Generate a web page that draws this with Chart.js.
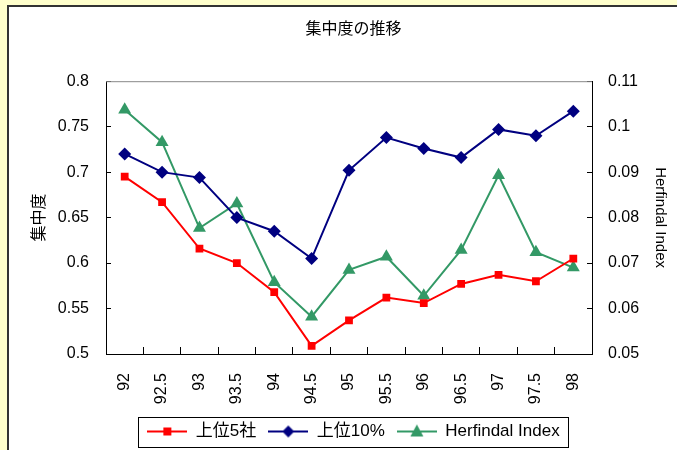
<!DOCTYPE html>
<html>
<head>
<meta charset="utf-8">
<script src="https://cdn.jsdelivr.net/npm/chart.js@4/dist/chart.umd.min.js"></script>
<style>
  html, body { margin: 0; padding: 0; background: #FFFFCC; }
  #wrap { width: 677px; height: 450px; }
</style>
</head>
<body>
<div id="wrap"><canvas id="chartCanvas"></canvas></div>
<script>
// 年度（カテゴリ）
const years = ["92", "92.5", "93", "93.5", "94", "94.5", "95", "95.5", "96", "96.5", "97", "97.5", "98"];
// 上位5社（左軸）
const top5 = [0.695, 0.667, 0.616, 0.600, 0.568, 0.509, 0.537, 0.562, 0.556, 0.577, 0.587, 0.580, 0.605];
// 上位10%（左軸）
const top10 = [0.720, 0.700, 0.694, 0.650, 0.635, 0.605, 0.702, 0.738, 0.726, 0.716, 0.747, 0.740, 0.767];
// Herfindal Index（右軸）
const herfindal = [0.1037, 0.0966, 0.0777, 0.0831, 0.0658, 0.0582, 0.0685, 0.0714, 0.0628, 0.0729, 0.0893, 0.0724, 0.0690];

const FONT = "'Liberation Sans', 'Noto Sans CJK JP', sans-serif";
const RED = "#FF0000";
const NAVY = "#000080";
const GREEN = "#339966";

// 凡例用アイコン（線＋マーカー）
function legendIcon(color, shape) {
  const cv = document.createElement("canvas");
  cv.width = 40;
  cv.height = 16;
  const c = cv.getContext("2d");
  c.strokeStyle = color;
  c.fillStyle = color;
  c.lineWidth = 2;
  c.beginPath();
  c.moveTo(0, 8);
  c.lineTo(40, 8);
  c.stroke();
  c.beginPath();
  if (shape === "rect") {
    c.rect(16, 4, 8, 8);
  } else if (shape === "diamond") {
    c.moveTo(20, 2); c.lineTo(26, 8); c.lineTo(20, 14); c.lineTo(14, 8);
  } else {
    c.moveTo(20, 1); c.lineTo(26.5, 13); c.lineTo(13.5, 13);
  }
  c.closePath();
  c.fill();
  return cv;
}
const icons = [legendIcon(RED, "rect"), legendIcon(NAVY, "diamond"), legendIcon(GREEN, "tri")];

// 背景と枠
const framePlugin = {
  id: "frame",
  beforeDraw(chart) {
    const ctx = chart.ctx;
    ctx.save();
    ctx.fillStyle = "#FFFFCC";
    ctx.fillRect(0, 0, chart.width, chart.height);
    ctx.fillStyle = "#FFFFFF";
    ctx.fillRect(8, 6, chart.width, chart.height);
    ctx.strokeStyle = "#333333";
    ctx.lineWidth = 2;
    ctx.strokeRect(8, 6, chart.width + 10, chart.height + 10);
    ctx.restore();
  },
  beforeDatasetsDraw(chart) {
    const a = chart.chartArea;
    const ctx = chart.ctx;
    ctx.save();
    ctx.strokeStyle = "#888888";
    ctx.lineWidth = 1;
    ctx.beginPath();
    ctx.moveTo(a.left, a.top + 0.5);
    ctx.lineTo(a.right, a.top + 0.5);
    ctx.stroke();
    ctx.restore();
  },
  afterDraw(chart) {
    const boxes = chart.legend && chart.legend.legendHitBoxes;
    if (!boxes || !boxes.length) return;
    let l = Infinity, r = -Infinity, t = Infinity, b = -Infinity;
    boxes.forEach(h => {
      l = Math.min(l, h.left); r = Math.max(r, h.left + h.width);
      t = Math.min(t, h.top); b = Math.max(b, h.top + h.height);
    });
    const ctx = chart.ctx;
    ctx.save();
    ctx.strokeStyle = "#000000";
    ctx.lineWidth = 1;
    ctx.strokeRect(Math.round(l - 9) + 0.5, Math.round(t - 6) + 0.5, Math.round(r - l + 18), Math.round(b - t + 13));
    ctx.restore();
  }
};

const canvas = document.getElementById("chartCanvas");

new Chart(canvas, {
  type: "line",
  data: {
    labels: years,
    datasets: [
      {
        label: "上位5社",
        data: top5,
        yAxisID: "y",
        borderColor: RED,
        backgroundColor: RED,
        borderWidth: 2,
        pointStyle: "rect",
        pointRadius: 5.5,
        pointBorderWidth: 0,
        tension: 0
      },
      {
        label: "上位10%",
        data: top10,
        yAxisID: "y",
        borderColor: NAVY,
        backgroundColor: NAVY,
        borderWidth: 2,
        pointStyle: "rectRot",
        pointRadius: 6.5,
        pointBorderWidth: 0,
        tension: 0
      },
      {
        label: "Herfindal Index",
        data: herfindal,
        yAxisID: "y1",
        borderColor: GREEN,
        backgroundColor: GREEN,
        borderWidth: 2,
        pointStyle: "triangle",
        pointRadius: 7.5,
        pointBorderWidth: 0,
        tension: 0
      }
    ]
  },
  options: {
    responsive: true,
    maintainAspectRatio: false,
    animation: false,
    layout: { padding: { left: 30, right: 0, top: 0, bottom: 0 } },
    plugins: {
      title: {
        display: true,
        text: "集中度の推移",
        color: "#000",
        font: { family: FONT, size: 16, weight: "normal" },
        padding: { top: 20, bottom: 42 }
      },
      legend: {
        position: "bottom",
        labels: {
          color: "#000",
          font: { family: FONT, size: 17 },
          usePointStyle: true,
          pointStyleWidth: 40,
          padding: 12,
          generateLabels(chart) {
            const items = Chart.defaults.plugins.legend.labels.generateLabels(chart);
            items.forEach((it, i) => { it.pointStyle = icons[i]; });
            return items;
          }
        }
      },
      tooltip: { enabled: false }
    },
    scales: {
      x: {
        type: "category",
        offset: true,
        grid: { offset: true, drawOnChartArea: false, tickLength: -7, color: "#000" },
        border: { color: "#000", width: 1 },
        ticks: { color: "#000", font: { family: FONT, size: 16 }, maxRotation: 90, minRotation: 90, padding: 26, autoSkip: false },
        afterFit: s => { s.height = 57; }
      },
      y: {
        position: "left",
        min: 0.5,
        max: 0.8,
        grid: { drawOnChartArea: false, tickLength: -5, color: "#000" },
        border: { color: "#000", width: 1 },
        ticks: { stepSize: 0.05, color: "#000", font: { family: FONT, size: 16 }, padding: 22, callback: v => String(+v.toFixed(2)) },
        title: { display: true, text: "集中度", color: "#000", font: { family: FONT, size: 16 }, padding: { top: 0, bottom: 0 } },
        afterFit: s => { s.width = 76; }
      },
      y1: {
        position: "right",
        min: 0.05,
        max: 0.11,
        grid: { drawOnChartArea: false, tickLength: -5, color: "#000" },
        border: { color: "#000", width: 1 },
        ticks: { stepSize: 0.01, color: "#000", font: { family: FONT, size: 16 }, padding: 21, callback: v => String(+v.toFixed(2)) },
        title: { display: true, text: "Herfindal Index", color: "#000", font: { family: FONT, size: 15 }, padding: { top: 8, bottom: 0 } },
        afterFit: s => { s.width = 85; }
      }
    }
  },
  plugins: [framePlugin]
});
</script>
</body>
</html>
